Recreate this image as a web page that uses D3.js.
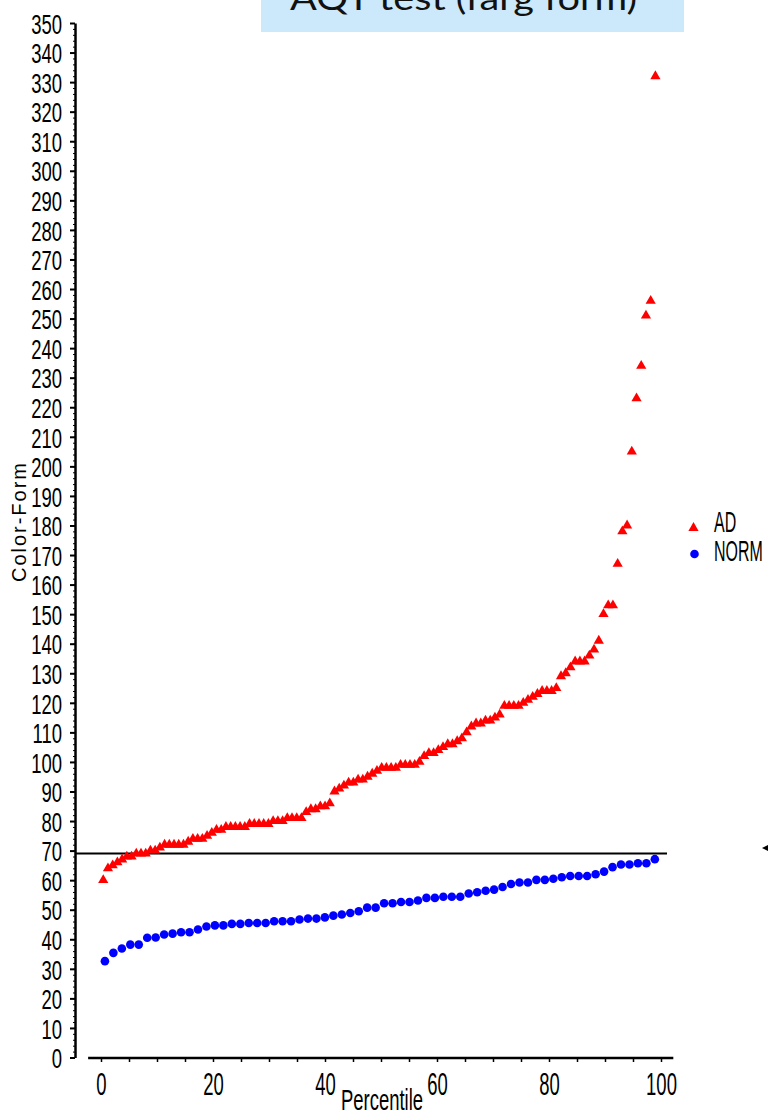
<!DOCTYPE html>
<html><head><meta charset="utf-8">
<script src="https://cdn.jsdelivr.net/npm/d3@7"></script>
<style>body{margin:0;background:#fff}svg{display:block}</style>
</head><body>
<svg id="chart" width="768" height="1116"></svg>
<script>
const titleText = "AQT test (färg form)";
const yLabel = "Color-Form";
const xLabel = "Percentile";
const seriesNames = ["AD", "NORM"];
const seriesColors = ["#ff0000", "#0000ff"];
const adValues = [60,64,65,66,67,68,68,69,69,69,70,70,71,72,72,72,72,72,73,74,
  74,74,75,76,77,77,78,78,78,78,78,79,79,79,79,79,80,80,80,81,
  81,81,81,83,84,84,85,85,86,90,91,92,93,93,94,94,95,96,97,98,
  98,98,98,99,99,99,99,100,102,103,103,104,105,106,106,107,108,110,112,113,
  113,114,114,115,116,119,119,119,119,120,121,122,123,124,124,124,125,129,130,132,
  134,134,134,136,138,141,150,153,153,167,178,180,205,223,234,251,256,332];
const normValues = [32.6,35.4,36.9,38.2,38.2,40.5,40.6,41.6,41.9,42.4,42.4,43.3,44.3,44.7,44.7,45.2,45.2,45.5,45.5,45.5,
  46.1,46.1,46.1,46.7,47,47,47.4,48,48.4,48.9,49.5,50.7,50.7,52.2,52.2,52.6,52.6,53.1,54,54,
  54.4,54.4,54.4,55.5,55.9,56.4,56.8,57.7,58.7,59.2,59.2,60.1,60.1,60.5,61,61.4,61.4,61.4,62,62.9,
  64.4,65.3,65.3,65.7,65.7,67.1];
const adPctRange = [0.4, 99.0];
const normPctRange = [0.7, 98.9];
const yTicks = d3.range(0, 351, 10);
const xTicks = [0, 20, 40, 60, 80, 100];
const cutoff = 69;

function pcts(vals, r) {
  const n = vals.length;
  return vals.map((v, i) => ({p: r[0] + i * (r[1] - r[0]) / (n - 1), v}));
}
const adData = pcts(adValues, adPctRange);
const normData = pcts(normValues, normPctRange);

const svg = d3.select("#chart");
const FONT = "'Liberation Sans', Arial, sans-serif";

const x = d3.scaleLinear().domain([0, 100]).range([101, 661]);
const y = d3.scaleLinear().domain([0, 350]).range([1057.5, 23]);

// title box
svg.append("rect").attr("x", 261).attr("y", 0).attr("width", 423).attr("height", 32).attr("fill", "#cce9fb");
svg.append("text").attr("x", 290).attr("y", 10).attr("font-family", "Lato, 'Open Sans', sans-serif")
  .attr("font-size", 32).attr("fill", "#111").attr("textLength", 347).attr("lengthAdjust", "spacingAndGlyphs")
  .text(titleText);

// Y axis
const yMinor = svg.append("g").attr("transform", "translate(75,0)")
  .call(d3.axisLeft(y).tickValues(d3.range(0, 351, 2)).tickSize(2).tickFormat(""));
yMinor.select(".domain").remove();
yMinor.selectAll("line").attr("stroke", "#000").attr("stroke-width", 1);

const yAxis = svg.append("g").attr("transform", "translate(75,0)")
  .call(d3.axisLeft(y).tickValues(yTicks).tickSize(5).tickSizeOuter(0).tickFormat(d3.format("d")));
yAxis.select(".domain").attr("stroke", "#000").attr("stroke-width", 2.5);
yAxis.selectAll(".tick line").attr("stroke", "#000").attr("stroke-width", 2);
yAxis.selectAll(".tick text").attr("x", null).attr("dy", null)
  .attr("font-family", FONT).attr("font-size", 21).attr("fill", "#000").attr("text-anchor", "end")
  .attr("transform", "translate(-13,10.2) scale(0.88,1.36)");

// X axis
const xAxisY = 1058;
svg.append("line").attr("x1", x(-2.3)).attr("x2", x(102.2)).attr("y1", xAxisY).attr("y2", xAxisY)
  .attr("stroke", "#000").attr("stroke-width", 2.5);
const xAxis = svg.append("g").attr("transform", `translate(0,${xAxisY})`)
  .call(d3.axisBottom(x).tickValues(d3.range(0, 101, 5)).tickSize(4)
    .tickFormat(d => xTicks.includes(d) ? d : ""));
xAxis.select(".domain").remove();
xAxis.selectAll(".tick line").attr("stroke", "#000").attr("stroke-width", 1.5);
xAxis.selectAll(".tick text").attr("y", null).attr("dy", null)
  .attr("font-family", FONT).attr("font-size", 22).attr("fill", "#000").attr("text-anchor", "middle")
  .attr("transform", "translate(0,37) scale(0.84,1.4)");

svg.append("text").attr("transform", "translate(382,1110) scale(0.84,1.36)")
  .attr("font-family", FONT).attr("font-size", 22).attr("text-anchor", "middle").attr("fill", "#000")
  .text(xLabel);

svg.append("text").attr("transform", "translate(26,522.5) rotate(-90)")
  .attr("font-family", FONT).attr("font-size", 20).attr("text-anchor", "middle").attr("fill", "#000")
  .attr("textLength", 119).attr("lengthAdjust", "spacing")
  .text(yLabel);

// cutoff line
svg.append("line").attr("x1", 75).attr("x2", 667).attr("y1", y(cutoff)).attr("y2", y(cutoff))
  .attr("stroke", "#000").attr("stroke-width", 2);

// data
const tri = d3.symbol(d3.symbolTriangle, 45);
svg.append("g").selectAll("path").data(adData).join("path")
  .attr("d", tri).attr("transform", d => `translate(${x(d.p)},${y(d.v)})`).attr("fill", seriesColors[0]);
svg.append("g").selectAll("circle").data(normData).join("circle")
  .attr("cx", d => x(d.p)).attr("cy", d => y(d.v)).attr("r", 4.3).attr("fill", seriesColors[1]);

// legend
const leg = svg.append("g");
leg.append("path").attr("d", tri).attr("transform", "translate(693.5,528)").attr("fill", seriesColors[0]);
leg.append("circle").attr("cx", 694.5).attr("cy", 554).attr("r", 4.3).attr("fill", seriesColors[1]);
seriesNames.forEach((n, i) => {
  leg.append("text").attr("transform", `translate(714,${532 + i * 29}) scale(0.76,1.38)`)
    .attr("font-family", FONT).attr("font-size", 21).attr("fill", "#000").text(n);
});

// arrow head at right edge
svg.append("path").attr("d", "M762,848 L768,845 L768,851 Z").attr("fill", "#000");
</script>
</body></html>
